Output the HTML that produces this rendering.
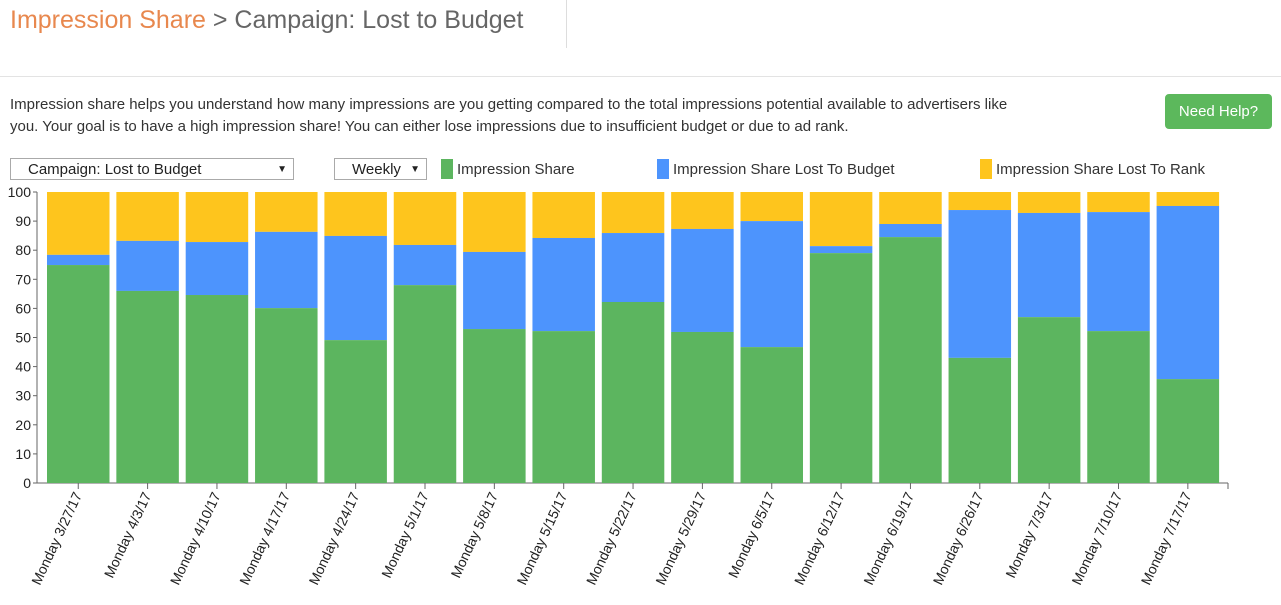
<!DOCTYPE html>
<html><head><meta charset="utf-8"><style>
body{margin:0;width:1281px;height:605px;background:#fff;font-family:"Liberation Sans",sans-serif;position:relative;overflow:hidden}
.abs{position:absolute}
</style></head><body>
<div class="abs" style="left:10px;top:6px;font-size:25px;color:#666;font-weight:300;white-space:nowrap"><span style="color:#e8884e">Impression Share</span> &gt; Campaign: Lost to Budget</div>
<div class="abs" style="left:566px;top:0;width:1px;height:48px;background:#ddd"></div>
<div class="abs" style="left:0;top:76px;width:1281px;height:1px;background:#e3e3e3"></div>
<div class="abs" style="left:10px;top:94px;width:1000px;font-size:15px;line-height:22px;color:#333">Impression share helps you understand how many impressions are you getting compared to the total impressions potential available to advertisers like you. Your goal is to have a high impression share! You can either lose impressions due to insufficient budget or due to ad rank.</div>
<div class="abs" style="left:1165px;top:94px;width:107px;height:35px;background:#5cb85c;border-radius:4px;color:#fff;font-size:15px;line-height:35px;text-align:center">Need Help?</div>
<div class="abs" style="left:10px;top:158px;width:284px;height:22px;border:1px solid #aaa;font-size:15px;line-height:22px;color:#222;box-sizing:border-box;padding-left:17px">Campaign: Lost to Budget<span style="position:absolute;right:6px;font-size:10px">▼</span></div>
<div class="abs" style="left:334px;top:158px;width:93px;height:22px;border:1px solid #aaa;font-size:15px;line-height:22px;color:#222;box-sizing:border-box;padding-left:17px">Weekly<span style="position:absolute;right:6px;font-size:10px">▼</span></div>
<svg class="abs" style="left:0;top:0" width="1281" height="605" id="chart"></svg>
<script>
const categories=["Monday 3/27/17","Monday 4/3/17","Monday 4/10/17","Monday 4/17/17","Monday 4/24/17","Monday 5/1/17","Monday 5/8/17","Monday 5/15/17","Monday 5/22/17","Monday 5/29/17","Monday 6/5/17","Monday 6/12/17","Monday 6/19/17","Monday 6/26/17","Monday 7/3/17","Monday 7/10/17","Monday 7/17/17"];
const impressionShare=[74.9,66,64.6,60.1,49.1,68,52.9,52.2,62.2,51.9,46.7,79,84.5,43,57,52.2,35.7];
const lostToBudget=[3.5,17.2,18.2,26.2,35.8,13.8,26.5,32,23.7,35.4,43.3,2.4,4.5,50.8,35.8,40.9,59.5];
const yTicks=[0,10,20,30,40,50,60,70,80,90,100];
const legendLabels=["Impression Share","Impression Share Lost To Budget","Impression Share Lost To Rank"];
const colors=["#5cb55f","#4d94fd","#fec51d"];
const NS="http://www.w3.org/2000/svg";
const svg=document.getElementById('chart');
function mk(t,a,p){const e=document.createElementNS(NS,t);for(const k in a)e.setAttribute(k,a[k]);(p||svg).appendChild(e);return e;}
const y0=483,y1=192,x0=37,x1=1228,step=69.35,bw=62.5,bx0=47;
const y=v=>y0-(v/100)*(y0-y1);
const xc=i=>bx0+i*step;
const lx=[441,657,980];
legendLabels.forEach((l,i)=>{
 const r=mk('rect',{x:lx[i],y:159,width:12,height:20,fill:colors[i]});
 
 
 const t=mk('text',{x:lx[i]+16,y:174,'font-size':15,fill:'#333'});t.textContent=l;
 
 
});
const ya=mk('line',{x1:x0,y1:y1,x2:x0,y2:y0,stroke:'#666'});


const xa=mk('line',{x1:x0,y1:y0,x2:x1,y2:y0,stroke:'#666'});


mk('line',{x1:x1,y1:y0,x2:x1,y2:y0+6,stroke:'#666'});
yTicks.forEach(v=>{
 mk('line',{x1:x0-4,y1:y(v),x2:x0,y2:y(v),stroke:'#666'});
 const t=mk('text',{x:x0-6,y:y(v)+5,'font-size':14,'text-anchor':'end',fill:'#222'});t.textContent=v;
 
 
});
categories.forEach((c,i)=>{
 const x=xc(i);
 const g=impressionShare[i],b=lostToBudget[i];
 const r3=mk('rect',{x:x,y:y(100),width:bw,height:y(g+b)-y(100),fill:colors[2]});
 
 
 const r2=mk('rect',{x:x,y:y(g+b),width:bw,height:y(g)-y(g+b),fill:colors[1]});
 
 
 const r1=mk('rect',{x:x,y:y(g),width:bw,height:y0-y(g),fill:colors[0]});
 
 
 const cx=x+bw/2;
 mk('line',{x1:cx,y1:y0,x2:cx,y2:y0+6,stroke:'#666'});
 const t=mk('text',{x:cx+4,y:y0+12,'font-size':14,'text-anchor':'end',fill:'#222',transform:`rotate(-65 ${cx+4} ${y0+12})`});t.textContent=c;
 
 
});
</script>
</body></html>
